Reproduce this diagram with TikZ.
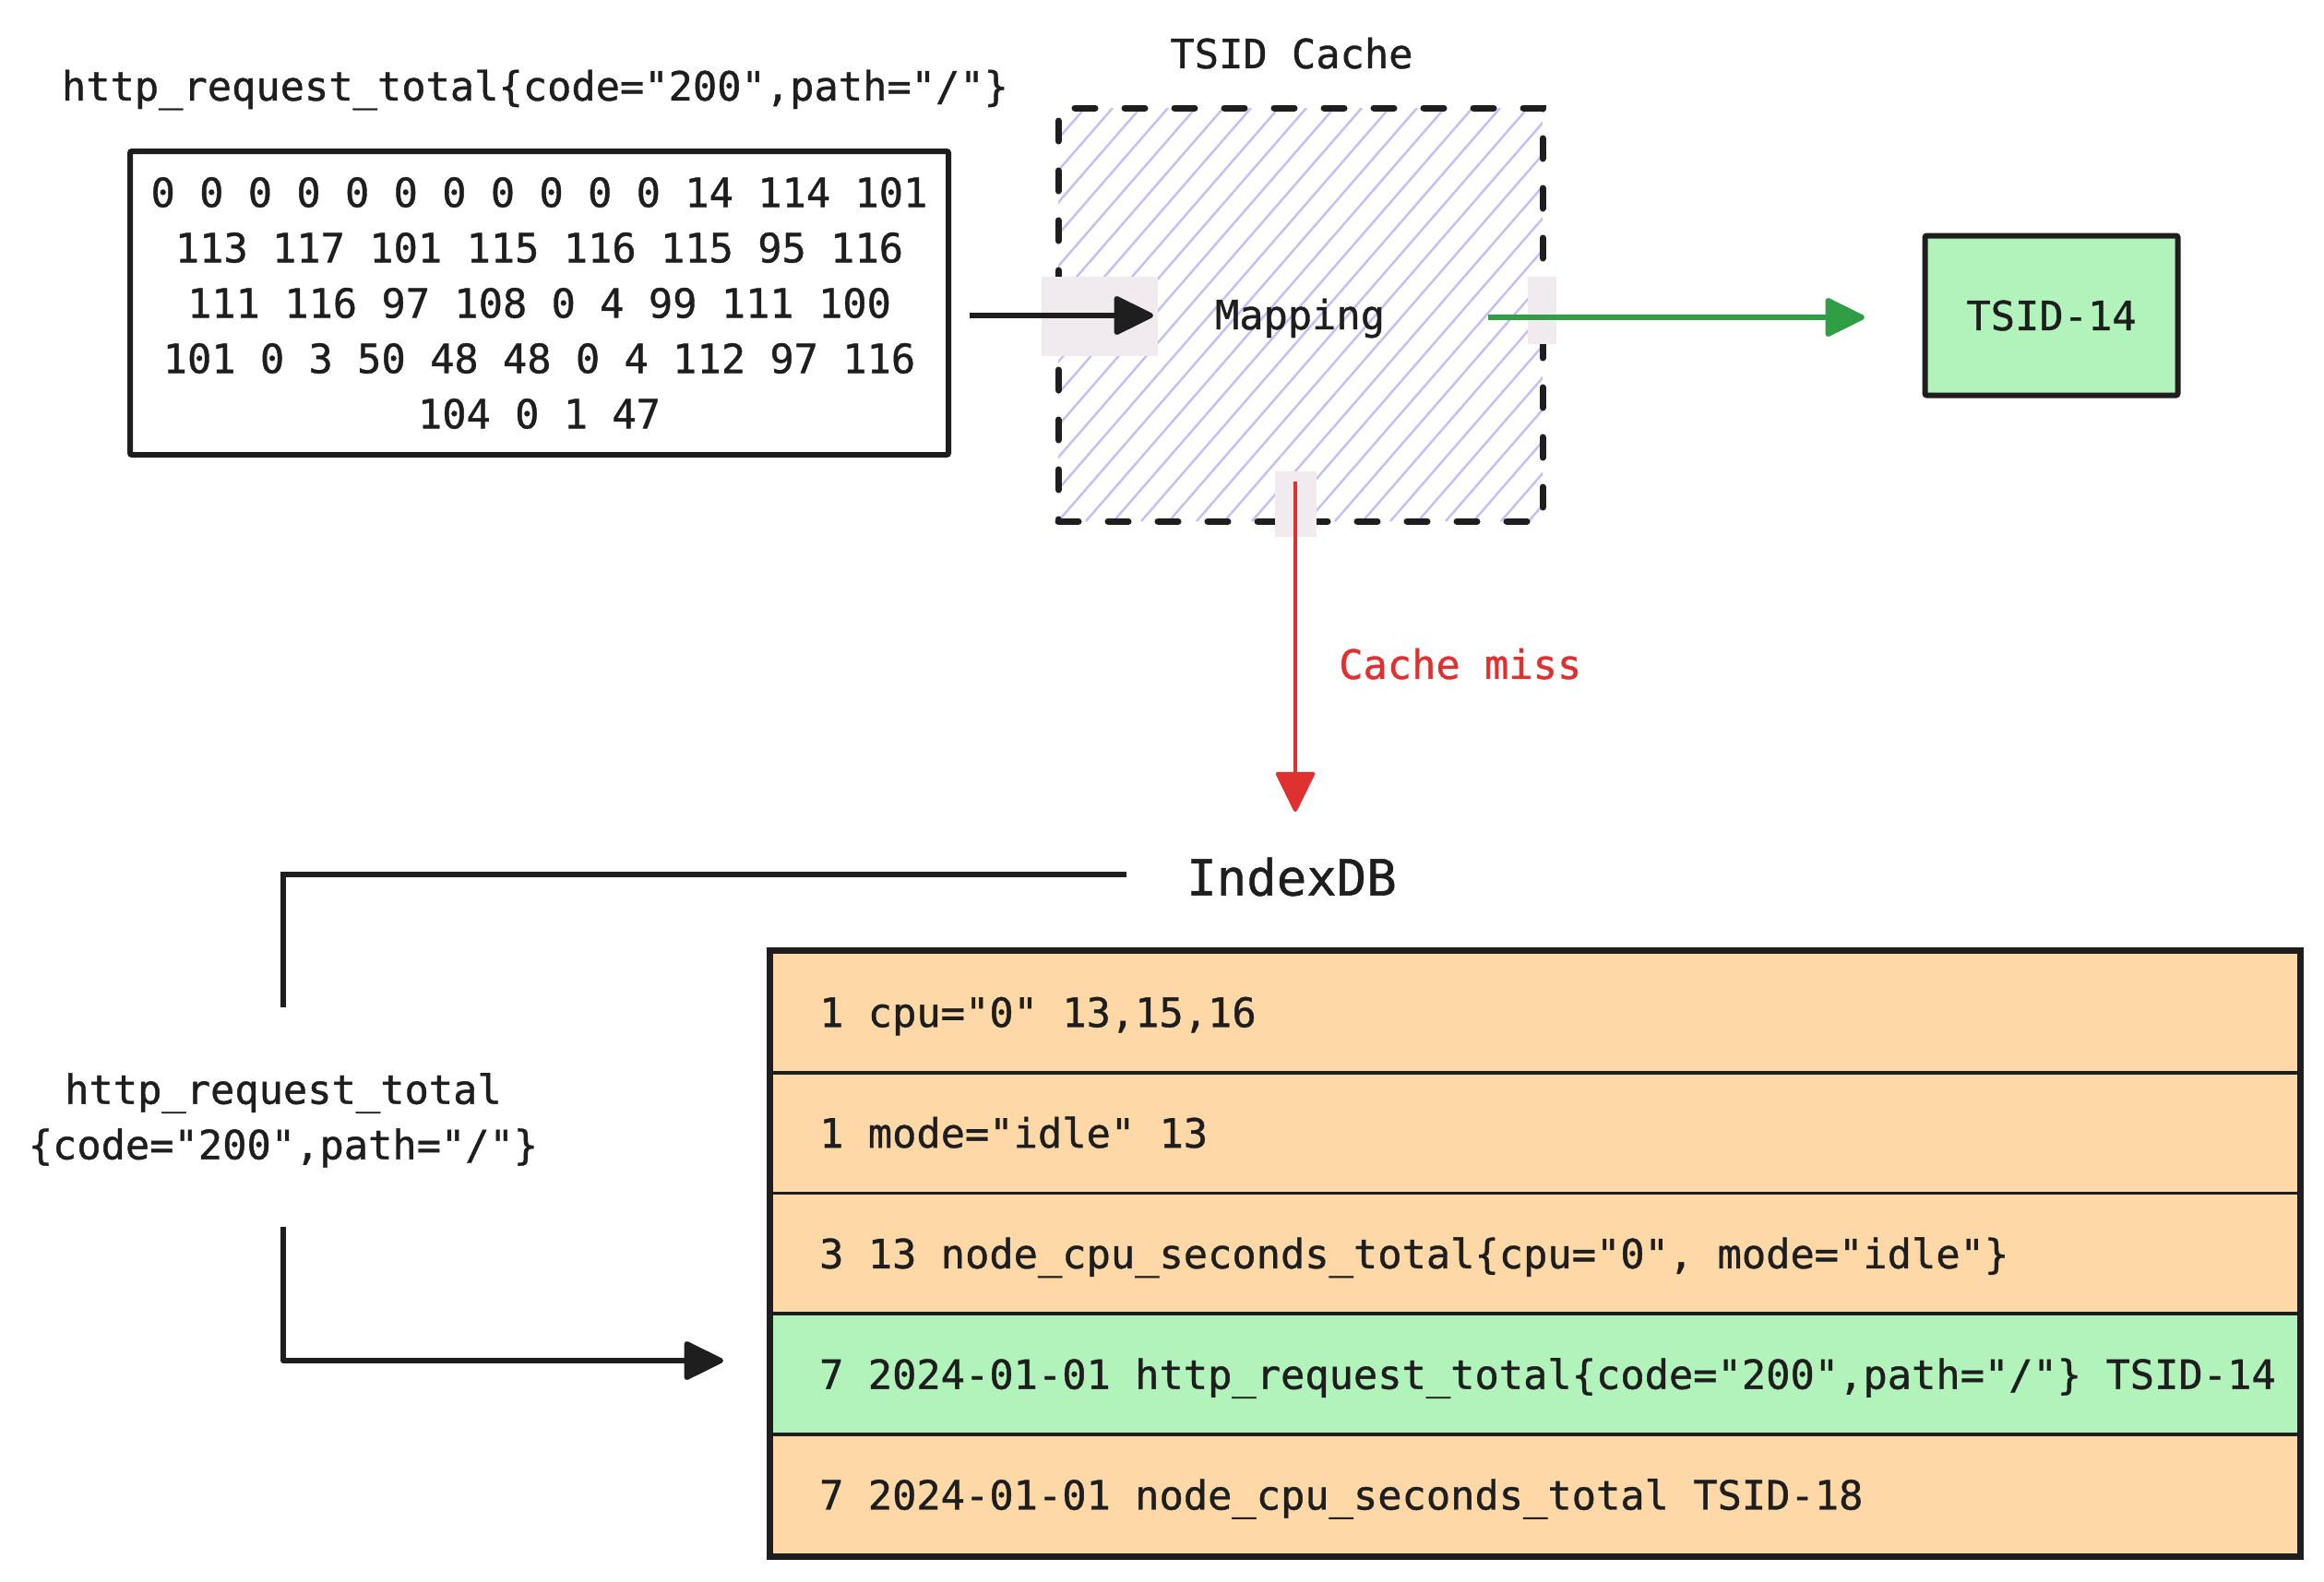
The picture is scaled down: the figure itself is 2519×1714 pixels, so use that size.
\documentclass[tikz,border=0pt]{standalone}
\usepackage{fontspec}
\setmonofont{DejaVu Sans Mono}[FakeBold=0.9]
\usetikzlibrary{arrows.meta}
\definecolor{ink}{HTML}{1E1E1E}
\definecolor{orng}{HTML}{FFD8A8}
\definecolor{lgreen}{HTML}{B2F2BB}
\definecolor{dgreen}{HTML}{2F9E44}
\definecolor{xred}{HTML}{E03131}
\definecolor{hatchc}{RGB}{196,190,248}
\definecolor{pinkc}{RGB}{241,234,239}
\tikzset{
  txt/.style={font=\ttfamily\fontsize{43.7}{60}\selectfont, inner sep=0pt, text=ink},
  onel/.style={txt, text height=31.9pt, text depth=0pt},
  boxd/.style={draw=ink, line width=6pt, rounded corners=2pt},
  arr/.style={line width=5.5pt, line join=round, -{Triangle[length=46pt,width=44pt,round]}},
  rowbox/.style={draw=ink, line width=3.8pt, minimum width=1656pt, minimum height=130.8pt, inner sep=0pt, anchor=north west},
  pinkbox/.style={fill=pinkc}
}
\begin{document}
\begin{tikzpicture}[x=1pt,y=-1pt]
\useasboundingbox (0,0) rectangle (2519,1714);

% title and number box
\node[onel] (title) at (580,93) {http\_request\_total\{code="200",path="/"\}};
\node[boxd, txt, align=center, minimum width=887pt, minimum height=329pt] (num) at (584.5,328.5)
  {0 0 0 0 0 0 0 0 0 0 0 14 114 101\\113 117 101 115 116 115 95 116\\111 116 97 108 0 4 99 111 100\\101 0 3 50 48 48 0 4 112 97 116\\104 0 1 47};

% cache hatch
\begin{scope}
  \clip (1147,117) rectangle (1672,565);
  \foreach \k in {-13,...,18}
    \draw[hatchc, line width=2.4pt] ({1147+\k*30},565) -- ++(389,-448);
\end{scope}
\node[draw=ink, line width=7pt, dash pattern=on 22pt off 32pt, line cap=round,
      minimum width=525pt, minimum height=448pt, inner sep=0pt] (cache) at (1409.5,341) {};
\node[onel] (cachelbl) at (1400,58) {TSID Cache};

% binding highlights
\fill[pinkbox] (1129,300) rectangle (1255,386);
\fill[pinkbox] (1656,300) rectangle (1687,373);
\fill[pinkbox] (1382,511) rectangle (1427,582);

\node[onel] (map) at (1409,341) {Mapping};

% TSID box
\node[boxd, onel, fill=lgreen, minimum width=274pt, minimum height=173pt] (tsid) at (2223.5,342) {TSID-14};

% arrows
\coordinate (a1s) at (1051,342);
\coordinate (a1e) at (1250,342);
\draw[arr, ink] (a1s) -- (a1e);
\coordinate (a2s) at (1613,344);
\coordinate (a2e) at (2021,344);
\draw[arr, dgreen] (a2s) -- (a2e);
\coordinate (a3s) at (1404,522);
\coordinate (a3e) at (1404,880);
\draw[arr, xred, line width=4.2pt] (a3s) -- (a3e);
\node[onel, text=xred, anchor=west] (miss) at (1451,720) {Cache miss};

% IndexDB
\node[txt, font=\ttfamily\fontsize{54}{60}\selectfont, text height=39.4pt, text depth=0pt] (idx) at (1400,951) {IndexDB};
\coordinate (c1) at (1221,948);
\coordinate (c2) at (307,1092);
\draw[ink, line width=5.5pt] (c1) -| (c2);

\node[txt, align=center, anchor=north] (lbl) at (307,1163) {http\_request\_total\\\{code="200",path="/"\}};
\coordinate (c3) at (307,1330);
\coordinate (c4) at (784,1475);
\draw[arr, ink] (c3) |- (c4);

% table
\foreach \i/\c in {1/orng,2/orng,3/orng,4/lgreen,5/orng}
  \node[rowbox, fill=\c] (r\i) at (834,{1030+(\i-1)*130.8}) {};
\draw[ink, line width=6.5pt] (r1.north west) rectangle (r5.south east);
\node[onel, anchor=west] (t1) at ([xshift=54pt]r1.west) {1 cpu="0" 13,15,16};
\node[onel, anchor=west] (t2) at ([xshift=54pt]r2.west) {1 mode="idle" 13};
\node[onel, anchor=west] (t3) at ([xshift=54pt]r3.west) {3 13 node\_cpu\_seconds\_total\{cpu="0", mode="idle"\}};
\node[onel, anchor=west] (t4) at ([xshift=54pt]r4.west) {7 2024-01-01 http\_request\_total\{code="200",path="/"\} TSID-14};
\node[onel, anchor=west] (t5) at ([xshift=54pt]r5.west) {7 2024-01-01 node\_cpu\_seconds\_total TSID-18};
\end{tikzpicture}
\end{document}
